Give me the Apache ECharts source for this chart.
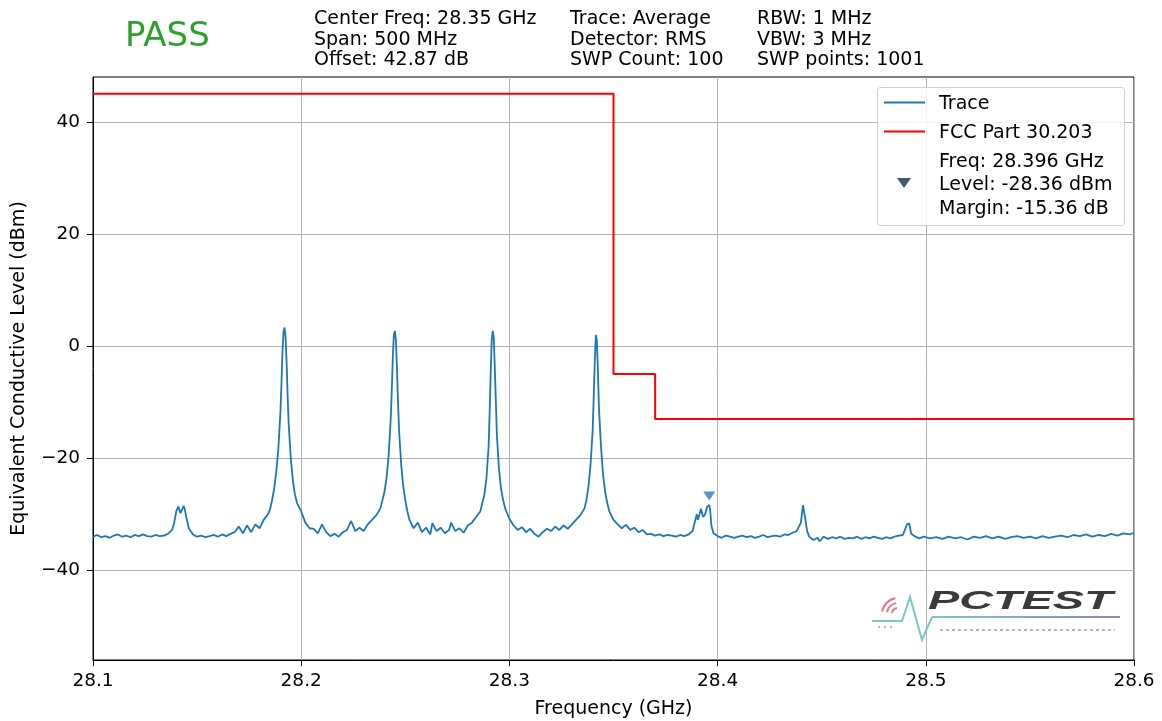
<!DOCTYPE html>
<html>
<head>
<meta charset="utf-8">
<script src="https://cdn.jsdelivr.net/npm/echarts@6/dist/echarts.min.js"></script>
<style>html,body{margin:0;padding:0;background:#fff}#c{width:1162px;height:721px}</style>
</head>
<body>
<div id="c"></div>
<script>
// ---- data ----
const traceFreq = [
28.100,28.102,28.104,28.106,28.108,28.110,28.112,28.114,28.116,28.118,28.120,28.122,28.124,28.126,28.128,28.130,28.132,28.134,28.136,28.138,
28.139,28.140,28.141,28.142,28.143,28.1435,28.144,28.145,28.146,28.148,28.150,28.152,28.154,28.156,28.158,28.160,28.162,28.164,28.166,28.168,
28.170,28.172,28.174,28.176,28.178,28.180,28.182,28.184,28.185,28.186,28.187,28.188,28.189,28.190,28.1905,28.191,28.1915,28.192,28.1925,28.193,
28.1935,28.194,28.195,28.196,28.197,28.198,28.200,28.202,28.204,28.206,28.208,28.210,28.212,28.214,28.216,28.218,28.220,28.222,28.224,28.226,
28.228,28.230,28.232,28.234,28.236,28.238,28.239,28.240,28.241,28.242,28.243,28.2435,28.244,28.2445,28.245,28.2455,28.246,28.2465,28.247,28.248,
28.249,28.250,28.251,28.252,28.254,28.256,28.258,28.260,28.262,28.263,28.265,28.267,28.269,28.271,28.272,28.274,28.276,28.278,28.280,28.282,
28.284,28.286,28.287,28.288,28.289,28.290,28.2905,28.291,28.2915,28.292,28.2925,28.293,28.2935,28.294,28.295,28.296,28.297,28.298,28.300,28.302,
28.304,28.306,28.308,28.310,28.312,28.314,28.316,28.318,28.320,28.322,28.324,28.326,28.328,28.330,28.332,28.334,28.336,28.337,28.338,28.339,
28.340,28.3405,28.341,28.3415,28.342,28.3425,28.343,28.344,28.345,28.346,28.347,28.348,28.350,28.352,28.354,28.356,28.358,28.360,28.362,28.364,
28.366,28.368,28.370,28.372,28.374,28.376,28.378,28.380,28.382,28.384,28.386,28.388,28.389,28.390,28.3905,28.391,28.392,28.393,28.394,28.395,
28.396,28.3965,28.397,28.398,28.400,28.402,28.404,28.406,28.408,28.410,28.412,28.414,28.416,28.418,28.420,28.422,28.424,28.426,28.428,28.430,
28.432,28.434,28.436,28.438,28.440,28.441,28.442,28.443,28.444,28.446,28.448,28.449,28.451,28.453,28.455,28.457,28.459,28.461,28.463,28.465,
28.467,28.469,28.471,28.473,28.475,28.477,28.479,28.481,28.483,28.485,28.487,28.489,28.491,28.492,28.493,28.495,28.497,28.499,28.502,28.505,
28.508,28.511,28.514,28.517,28.520,28.523,28.526,28.529,28.532,28.535,28.538,28.541,28.544,28.547,28.550,28.553,28.556,28.559,28.562,28.565,
28.568,28.571,28.574,28.577,28.580,28.583,28.586,28.589,28.592,28.595,28.598,28.600
];
const traceLevel = [
-34.0,-33.7,-34.1,-33.9,-34.2,-33.8,-33.6,-34.0,-33.8,-34.1,-33.7,-33.9,-33.6,-33.9,-34.0,-33.7,-33.9,-33.8,-33.5,-32.8,
-31.5,-29.5,-28.6,-29.8,-29.0,-28.5,-29.0,-30.8,-32.5,-33.6,-34.0,-33.8,-34.1,-33.9,-33.7,-34.0,-33.6,-33.9,-33.5,-33.2,
-32.2,-33.4,-32.0,-33.2,-31.8,-32.5,-31.0,-30.0,-29.2,-27.5,-25.5,-22.5,-18.5,-12.0,-7.0,-1.0,2.5,3.3,1.5,-3.0,
-9.0,-14.0,-20.0,-24.0,-26.5,-28.0,-29.5,-31.5,-32.5,-32.6,-33.4,-31.8,-33.2,-33.9,-33.5,-34.0,-33.2,-32.8,-31.2,-33.0,
-32.4,-33.0,-31.8,-31.0,-30.2,-29.0,-27.5,-26.0,-23.5,-19.5,-13.0,-8.0,-2.0,2.0,2.7,1.0,-4.0,-10.0,-15.0,-21.0,
-25.0,-27.5,-29.5,-31.0,-32.5,-31.5,-33.2,-32.4,-33.6,-31.6,-33.0,-32.4,-33.4,-32.8,-31.5,-33.0,-32.5,-33.3,-32.0,-31.5,
-30.5,-29.5,-28.0,-26.5,-23.5,-18.0,-12.0,-5.0,1.0,2.7,1.5,-4.0,-10.0,-16.0,-22.0,-25.5,-27.5,-29.0,-30.8,-32.0,
-32.8,-32.3,-33.2,-32.6,-33.5,-34.0,-33.2,-32.6,-33.0,-32.2,-32.8,-32.0,-32.6,-31.8,-31.0,-30.2,-29.0,-27.5,-25.0,-21.0,
-15.0,-9.0,-3.0,2.0,1.0,-4.0,-11.0,-18.0,-23.0,-26.0,-28.0,-29.5,-31.0,-31.8,-32.5,-31.9,-32.8,-32.4,-33.2,-32.8,
-33.6,-33.5,-33.8,-33.6,-33.9,-33.7,-33.8,-34.0,-33.7,-33.9,-33.6,-33.0,-31.5,-30.0,-31.0,-30.5,-29.0,-30.5,-30.0,-28.6,
-28.36,-29.5,-32.0,-33.4,-33.9,-34.2,-33.8,-34.0,-34.2,-34.0,-33.8,-34.1,-33.9,-34.2,-34.0,-33.7,-34.1,-33.9,-33.8,-34.0,
-33.6,-33.7,-33.3,-33.0,-31.5,-28.4,-30.5,-33.0,-34.0,-34.6,-34.2,-34.8,-34.0,-34.4,-34.1,-34.3,-34.0,-34.4,-34.2,-34.3,
-34.0,-34.4,-34.1,-34.3,-34.0,-34.2,-34.4,-34.1,-34.3,-34.0,-33.8,-33.7,-31.8,-31.6,-33.5,-34.0,-34.3,-34.0,-34.3,-34.1,
-34.4,-34.0,-34.3,-34.1,-34.5,-34.0,-34.2,-33.9,-34.3,-34.0,-34.4,-34.1,-33.9,-34.2,-34.0,-34.3,-33.9,-34.2,-34.0,-33.8,
-34.1,-33.7,-33.9,-33.6,-34.0,-33.7,-33.9,-33.5,-33.8,-33.4,-33.6,-33.3
];
const limitFreq = [28.1, 28.35, 28.35, 28.37, 28.37, 28.6];
const limitLevel = [45, 45, -5, -5, -13, -13];
const markerFreq = [28.396];
const markerLevel = [-28.36];
const yTicks = [-40, -20, 0, 20, 40];
const headerCols = [
  ['Center Freq: 28.35 GHz', 'Span: 500 MHz', 'Offset: 42.87 dB'],
  ['Trace: Average', 'Detector: RMS', 'SWP Count: 100'],
  ['RBW: 1 MHz', 'VBW: 3 MHz', 'SWP points: 1001']
];
const legendTexts = ['Trace', 'FCC Part 30.203', 'Freq: 28.396 GHz\nLevel: -28.36 dBm\nMargin: -15.36 dB'];

// ---- chart ----
const FONT = 'DejaVu Sans';
const chart = echarts.init(document.getElementById('c'), null, {renderer: 'canvas'});
const minus = v => (v < 0 ? '\u2212' + Math.abs(v) : String(v));

const colX = [314, 570, 757];
const graphics = [];
graphics.push({type: 'text', left: 125, top: 20, style: {text: 'PASS', font: '34px ' + FONT, fill: '#2ca02c'}});
headerCols.forEach((col, i) => {
  graphics.push({type: 'text', left: colX[i], top: 9, style: {text: col.join('\n'), font: '19px ' + FONT, fill: '#000', lineHeight: 20.5}});
});
// legend box
graphics.push({type: 'rect', shape: {x: 877.5, y: 87.5, width: 247, height: 138, r: 3}, style: {fill: 'rgba(255,255,255,0.85)', stroke: '#d0d0d0', lineWidth: 1}, z: 100});
graphics.push({type: 'line', shape: {x1: 884, y1: 102.5, x2: 925, y2: 102.5}, style: {stroke: '#1f77b4', lineWidth: 2}, z: 101});
graphics.push({type: 'line', shape: {x1: 884, y1: 131.5, x2: 925, y2: 131.5}, style: {stroke: '#ff0000', lineWidth: 2}, z: 101});
graphics.push({type: 'polygon', shape: {points: [[897, 178], [911, 178], [904, 188]]}, style: {fill: '#3d5a73'}, z: 101});
graphics.push({type: 'text', left: 939, top: 94.5, style: {text: legendTexts[0], font: '19px ' + FONT, fill: '#000'}, z: 101});
graphics.push({type: 'text', left: 939, top: 123.5, style: {text: legendTexts[1], font: '19px ' + FONT, fill: '#000'}, z: 101});
graphics.push({type: 'text', left: 939, top: 150, style: {text: legendTexts[2], font: '19px ' + FONT, fill: '#000', lineHeight: 23.5}, z: 101});
// logo
graphics.push({type: 'polyline', shape: {points: [[872, 621], [902, 621], [910, 597], [922, 640], [932, 617]]}, style: {stroke: '#7cc6c6', lineWidth: 2, fill: null}, z: 50});
graphics.push({type: 'line', shape: {x1: 932, y1: 617, x2: 1120, y2: 617}, style: {stroke: new echarts.graphic.LinearGradient(0, 0, 1, 0, [{offset: 0, color: '#7cc6c6'}, {offset: 1, color: '#8a86c0'}]), lineWidth: 2}, z: 51});
graphics.push({type: 'line', shape: {x1: 940, y1: 630, x2: 1115, y2: 630}, style: {stroke: '#b8b8b8', lineWidth: 2, lineDash: [3, 3]}, z: 50});
graphics.push({type: 'line', shape: {x1: 878, y1: 627, x2: 895, y2: 627}, style: {stroke: '#b8b8b8', lineWidth: 2, lineDash: [2, 4]}, z: 50});
[6, 11, 16].forEach(r => {
  graphics.push({type: 'arc', shape: {cx: 898, cy: 614, r: r, startAngle: -Math.PI * 0.95, endAngle: -Math.PI * 0.55}, style: {stroke: '#e07a8a', lineWidth: 2, fill: null}, z: 50});
});
graphics.push({type: 'text', x: 928, y: 589, scaleX: 1.8, originX: 0, originY: 0, style: {text: 'PCTEST', font: 'italic bold 26px "Liberation Sans"', fill: '#3a3a3a'}, z: 50});

const option = {
  animation: false,
  backgroundColor: '#fff',
  grid: {left: 93, right: 28, top: 77, bottom: 61, show: true, borderColor: '#000', borderWidth: 1, backgroundColor: 'transparent',
         containLabel: false, outerBoundsMode: 'none'},
  xAxis: {
    type: 'value', min: 28.1, max: 28.6, interval: 0.1,
    name: 'Frequency (GHz)', nameLocation: 'middle', nameGap: 40,
    nameTextStyle: {fontFamily: FONT, fontSize: 19, color: '#000'},
    axisLine: {show: true, onZero: false, lineStyle: {color: '#000'}},
    axisTick: {show: true, length: 6, lineStyle: {color: '#000'}},
    axisLabel: {fontFamily: FONT, fontSize: 18.5, color: '#000', margin: 12, formatter: v => v.toFixed(1)},
    splitLine: {show: true, lineStyle: {color: '#b0b0b0', width: 1}}
  },
  yAxis: {
    type: 'value', min: -56, max: 48,
    name: 'Equivalent Conductive Level (dBm)', nameLocation: 'middle', nameGap: 64, nameRotate: 90,
    nameTextStyle: {fontFamily: FONT, fontSize: 19, color: '#000'},
    axisLine: {show: true, onZero: false, lineStyle: {color: '#000'}},
    axisTick: {show: true, length: 6, lineStyle: {color: '#000'}, customValues: yTicks},
    axisLabel: {fontFamily: FONT, fontSize: 18.5, color: '#000', margin: 13, customValues: yTicks, formatter: minus},
    splitLine: {show: true, lineStyle: {color: '#b0b0b0', width: 1}}
  },
  series: [
    {name: 'Trace', type: 'line', data: traceFreq.map((f, i) => [f, traceLevel[i]]), symbol: 'none',
     lineStyle: {color: '#1f77b4', width: 1.8}, z: 3},
    {name: 'FCC Part 30.203', type: 'line', data: limitFreq.map((f, i) => [f, limitLevel[i]]), symbol: 'none',
     lineStyle: {color: '#ff0000', width: 2}, z: 4},
    {name: 'Marker', type: 'scatter', data: markerFreq.map((f, i) => [f, markerLevel[i]]), symbol: 'triangle', symbolRotate: 180,
     symbolSize: [12, 9], symbolOffset: [0, -9], itemStyle: {color: '#2f7bb5'}, z: 5}
  ],
  graphic: graphics
};
chart.setOption(option);
</script>
</body>
</html>
